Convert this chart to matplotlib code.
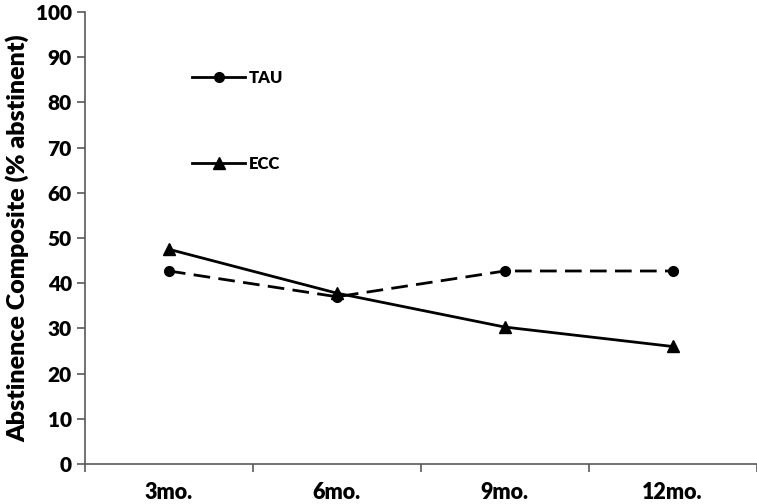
import numpy as np
import matplotlib.pyplot as plt
from matplotlib.lines import Line2D

plt.rcParams['font.family'] = ['Lato', 'DejaVu Sans']
plt.rcParams['font.weight'] = 'heavy'

months = ['3mo.', '6mo.', '9mo.', '12mo.']
tau = [42.7, 37.0, 42.7, 42.7]
ecc = [47.5, 37.8, 30.3, 26.0]

fig = plt.figure(figsize=(7.57, 5.04), dpi=100)
ax = fig.add_axes([85/757, 40/504, 1 - 85/757 - 0.5/757, 452/504])

x = np.arange(len(months)) + 0.5
ax.plot(x, tau, color='black', lw=2, dashes=(6, 3), marker='o', ms=7)
ax.plot(x, ecc, color='black', lw=2, marker='^', ms=8)

ax.set_xlim(0, 4)
ax.set_ylim(0, 100)
ax.set_yticks(np.arange(0, 101, 10))
ax.set_xticks(np.arange(0, 5))
ax.set_xticklabels([])
ax.set_xticks(x, minor=True)
ax.set_xticklabels(months, minor=True, fontsize=15.5, fontweight='heavy')
ax.tick_params(axis='x', which='minor', length=0, pad=13)
ax.tick_params(axis='x', which='major', length=6, width=1.2, color='#595959')
ax.tick_params(axis='y', length=6, width=1.2, color='#595959', labelsize=15)
for lab in ax.get_yticklabels():
    lab.set_fontweight('heavy')

for s in ['top', 'right']:
    ax.spines[s].set_visible(False)
for s in ['left', 'bottom']:
    ax.spines[s].set_color('#595959')
    ax.spines[s].set_linewidth(1.2)

ax.set_ylabel('Abstinence Composite (% abstinent)', fontsize=18, fontweight='heavy', labelpad=5)

handles = [Line2D([], [], color='black', lw=2, marker='o', ms=7),
           Line2D([], [], color='black', lw=2, marker='^', ms=8)]
ax.legend(handles, ['TAU', 'ECC'], loc='upper left', bbox_to_anchor=(0.137, 0.905),
          frameon=False, labelspacing=4.2, handlelength=3.2,
          handletextpad=0.2, prop={'weight': 'heavy', 'size': 12})

fig.savefig('out.png', dpi=100)
